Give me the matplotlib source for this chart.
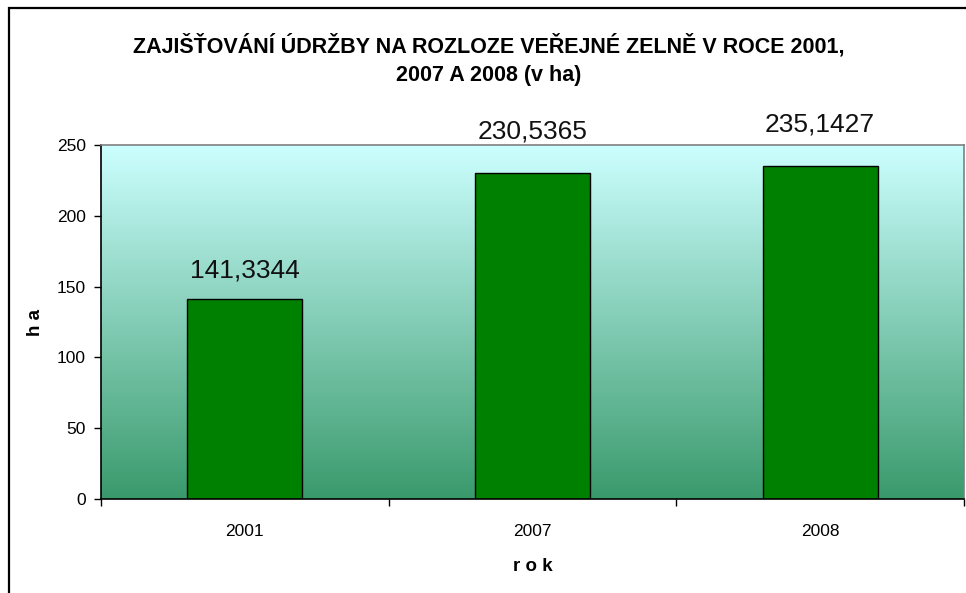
import matplotlib
matplotlib.use("Agg")
import matplotlib.pyplot as plt
import numpy as np
from matplotlib.patches import Rectangle
from matplotlib.colors import LinearSegmentedColormap

plt.rcParams['font.family'] = ['Liberation Sans', 'DejaVu Sans']

years = ["2001", "2007", "2008"]
values = [141.3344, 230.5365, 235.1427]
value_labels = ["141,3344", "230,5365", "235,1427"]
yticks = [0, 50, 100, 150, 200, 250]

# label offsets above bars (points), as placed in the original
label_offsets = [12, 21, 21]

W, H = 966, 593
fig = plt.figure(figsize=(W / 100, H / 100), dpi=100)

# outer frame (clipped at right/bottom like the reference)
fig.patches.append(Rectangle((9 / W, -0.05), 1.2, 1 - 8 / H + 0.05, transform=fig.transFigure,
                             fill=False, edgecolor='black', linewidth=1.6, zorder=0))

ax = fig.add_axes([101 / W, 1 - 499 / H, (964 - 101) / W, (499 - 145) / H])

# gradient background
cmap = LinearSegmentedColormap.from_list('bg', ['#3A9A6C', '#CCFFFF'])
grad = np.linspace(0, 1, 256).reshape(-1, 1)
ax.imshow(grad, cmap=cmap, origin='lower', aspect='auto',
          extent=[-0.5, 2.5, 0, 250], zorder=0)

x = np.arange(len(years))
ax.bar(x, values, width=0.4, color='#008000', edgecolor='black', linewidth=1.0, zorder=2)

for xi, v, lab, off in zip(x, values, value_labels, label_offsets):
    ax.annotate(lab, (xi, v), xytext=(0, off), textcoords='offset points',
                ha='center', va='bottom', fontsize=19, color='#111111',
                annotation_clip=False)

ax.set_xlim(-0.5, 2.5)
ax.set_ylim(0, 250)
ax.set_yticks(yticks)
ax.set_yticklabels([str(t) for t in yticks], fontsize=12.5)
ax.set_xticks([-0.5, 0.5, 1.5, 2.5])
ax.set_xticklabels([])
ax.set_xticks(x, minor=True)
ax.set_xticklabels(years, minor=True, fontsize=12.5)
ax.tick_params(axis='x', which='major', direction='out', length=5, width=1)
ax.tick_params(axis='x', which='minor', length=0, pad=18)
ax.tick_params(axis='y', direction='out', length=5, width=1, pad=6)

for s in ['top', 'right']:
    ax.spines[s].set_color('#808080')
    ax.spines[s].set_linewidth(1.2)
for s in ['left', 'bottom']:
    ax.spines[s].set_color('black')
    ax.spines[s].set_linewidth(1.2)

ax.set_xlabel("r o k", fontsize=13.5, fontweight='bold', labelpad=14)
ax.set_ylabel("h a", fontsize=13.5, fontweight='bold', labelpad=9)

fig.text(489 / W, 1 - 60 / H,
         "ZAJIŠŤOVÁNÍ ÚDRŽBY NA ROZLOZE VEŘEJNÉ ZELNĚ V ROCE 2001,\n2007 A 2008 (v ha)",
         ha='center', va='center', fontsize=15.5, fontweight='bold', linespacing=1.5)

fig.savefig("out.png", dpi=100)
